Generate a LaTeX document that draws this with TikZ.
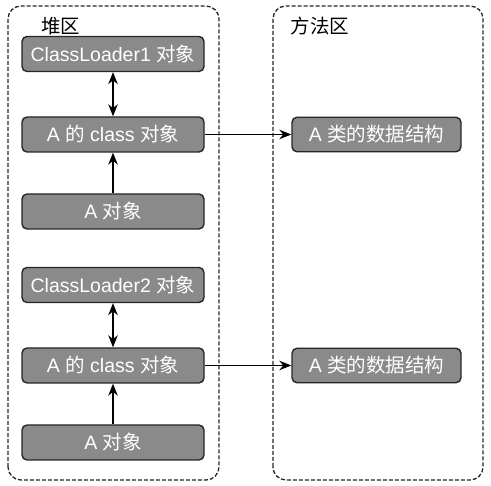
\documentclass[tikz,border=0pt]{standalone}
\usepackage{fontspec}
\setmainfont{Liberation Sans}
\newfontfamily\cjk{Noto Sans CJK SC}
\usetikzlibrary{arrows.meta}
\definecolor{objgray}{HTML}{8A8A8A}
\tikzset{
    obj/.style={draw=black!85, line width=1.4pt, fill=objgray, rounded corners=5pt,
        text=white, font=\fontsize{19.5}{22}\selectfont, inner sep=0pt},
    area/.style={draw=black!85, dashed, dash pattern=on 4pt off 2pt, line width=1.3pt, rounded corners=13pt},
    link/.style={line width=1.2pt, -{Stealth[length=12pt,width=9.5pt]}},
}
\begin{document}
\begin{tikzpicture}[x=1pt,y=1pt]
    \useasboundingbox (0,0) rectangle (491,486);
    \draw[area] (8,6) rectangle (219,480);
    \draw[area] (273,6) rectangle (483,480);
    \node[font=\cjk\fontsize{19.5}{22}\selectfont] (heap) at (61,460) {堆区};
    \node[font=\cjk\fontsize{19.5}{22}\selectfont] (method) at (320,460) {方法区};

    \foreach \g/\dy in {1/0,2/-231} {
        \begin{scope}[yshift=\dy]
            \node[obj, minimum width=182pt, minimum height=35pt] (loader\g) at (113,432)
                {ClassLoader\g\ {\cjk 对象}};
            \node[obj, minimum width=182pt, minimum height=35pt] (cls\g) at (113,351.5)
                {A {\cjk 的} class {\cjk 对象}};
            \node[obj, minimum width=182pt, minimum height=35pt] (inst\g) at (113,274.5)
                {A {\cjk 对象}};
            \node[obj, minimum width=169pt, minimum height=34.5pt] (data\g) at (376.5,351.5)
                {A {\cjk 类的数据结构}};
        \end{scope}
        \draw[link, {Stealth[length=12pt,width=9.5pt]}-{Stealth[length=12pt,width=9.5pt]}] (loader\g) -- (cls\g);
        \draw[link] (inst\g) -- (cls\g);
        \draw[link] (cls\g) -- (data\g);
    }
\end{tikzpicture}
\end{document}
